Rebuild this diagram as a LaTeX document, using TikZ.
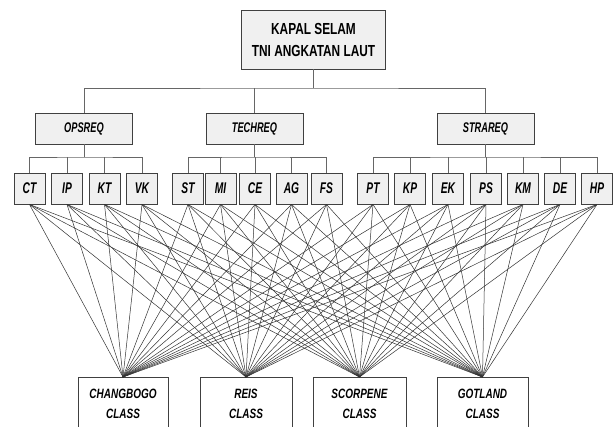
\documentclass[tikz,border=0pt]{standalone}
\usepackage{fontspec}
\newfontfamily\cond[FakeStretch=0.74]{Liberation Sans}
\newfontfamily\condb[FakeStretch=0.66]{Liberation Sans}
\begin{document}
\begin{tikzpicture}[x=1pt,y=-1pt,
  box/.style={draw=black!75, line width=0.9pt, fill=black!6, inner sep=0pt, anchor=center},
  topbox/.style={box, minimum width=144, minimum height=59, align=center,
     font=\cond\bfseries\fontsize{16}{22}\selectfont},
  grpbox/.style={box, minimum width=97, minimum height=31,
     font=\condb\bfseries\itshape\fontsize{14}{15}\selectfont},
  leaf/.style={box, minimum width=31, minimum height=31,
     font=\condb\bfseries\itshape\fontsize{15.5}{16}\selectfont},
  alt/.style={draw=black!75, line width=0.9pt, fill=white, inner sep=0pt, anchor=north,
     minimum height=52, align=center,
     font=\cond\bfseries\itshape\fontsize{13.5}{20}\selectfont},
  tree/.style={draw=black!60, line width=0.9pt},
  link/.style={draw=black!80, line width=0.5pt}
]
\clip (0,0) rectangle (613,426);
\fill[white] (0,0) rectangle (613,426);

\node[topbox] (top) at (313.5,39.5) {KAPAL SELAM\\TNI ANGKATAN LAUT};

\node[grpbox] (ops) at (84,128.5) {OPSREQ};
\node[grpbox] (tech) at (254.5,128.5) {TECHREQ};
\node[grpbox] (stra) at (485.5,128.5) {STRAREQ};

\foreach \n/\x in {CT/29.5, IP/67, KT/104.5, VK/142,
                   ST/188, MI/220.5, CE/255, AG/291.5, FS/326.5,
                   PT/373, KP/410, EK/448, PS/486, KM/523, DE/560, HP/597}
  \node[leaf] (\n) at (\x,188.5) {\n};

\node[alt, minimum width=90] (cb) at (123,377) {CHANGBOGO\\CLASS};
\node[alt, minimum width=92] (re) at (246,377) {REIS\\CLASS};
\node[alt, minimum width=93] (sc) at (359.5,377) {SCORPENE\\CLASS};
\node[alt, minimum width=91] (go) at (482.5,377) {GOTLAND\\CLASS};

% tree connectors
\coordinate (h1) at (0,88);
\coordinate (h2) at (0,157);
\draw[tree] (top.south) -- (top.south |- h1);
\draw[tree] (ops.north) |- (top.south |- h1) -| (stra.north);
\draw[tree] (tech.north) -- (tech.north |- h1);

\draw[tree] (ops.south) -- (ops.south |- h2);
\draw[tree] (CT.north) |- (ops.south |- h2) -| (VK.north);
\foreach \n in {IP,KT} \draw[tree] (\n.north) -- (\n.north |- h2);

\draw[tree] (tech.south) -- (tech.south |- h2);
\draw[tree] (ST.north) |- (tech.south |- h2) -| (FS.north);
\foreach \n in {MI,CE,AG} \draw[tree] (\n.north) -- (\n.north |- h2);

\draw[tree] (stra.south) -- (stra.south |- h2);
\draw[tree] (PT.north) |- (stra.south |- h2) -| (HP.north);
\foreach \n in {KP,EK,PS,KM,DE} \draw[tree] (\n.north) -- (\n.north |- h2);

% links to alternatives
\foreach \n in {CT,IP,KT,VK,ST,MI,CE,AG,FS,PT,KP,EK,PS,KM,DE,HP}
  \foreach \a in {cb,re,sc,go}
    \draw[link] (\n.south) -- (\a.north);
\end{tikzpicture}
\end{document}
